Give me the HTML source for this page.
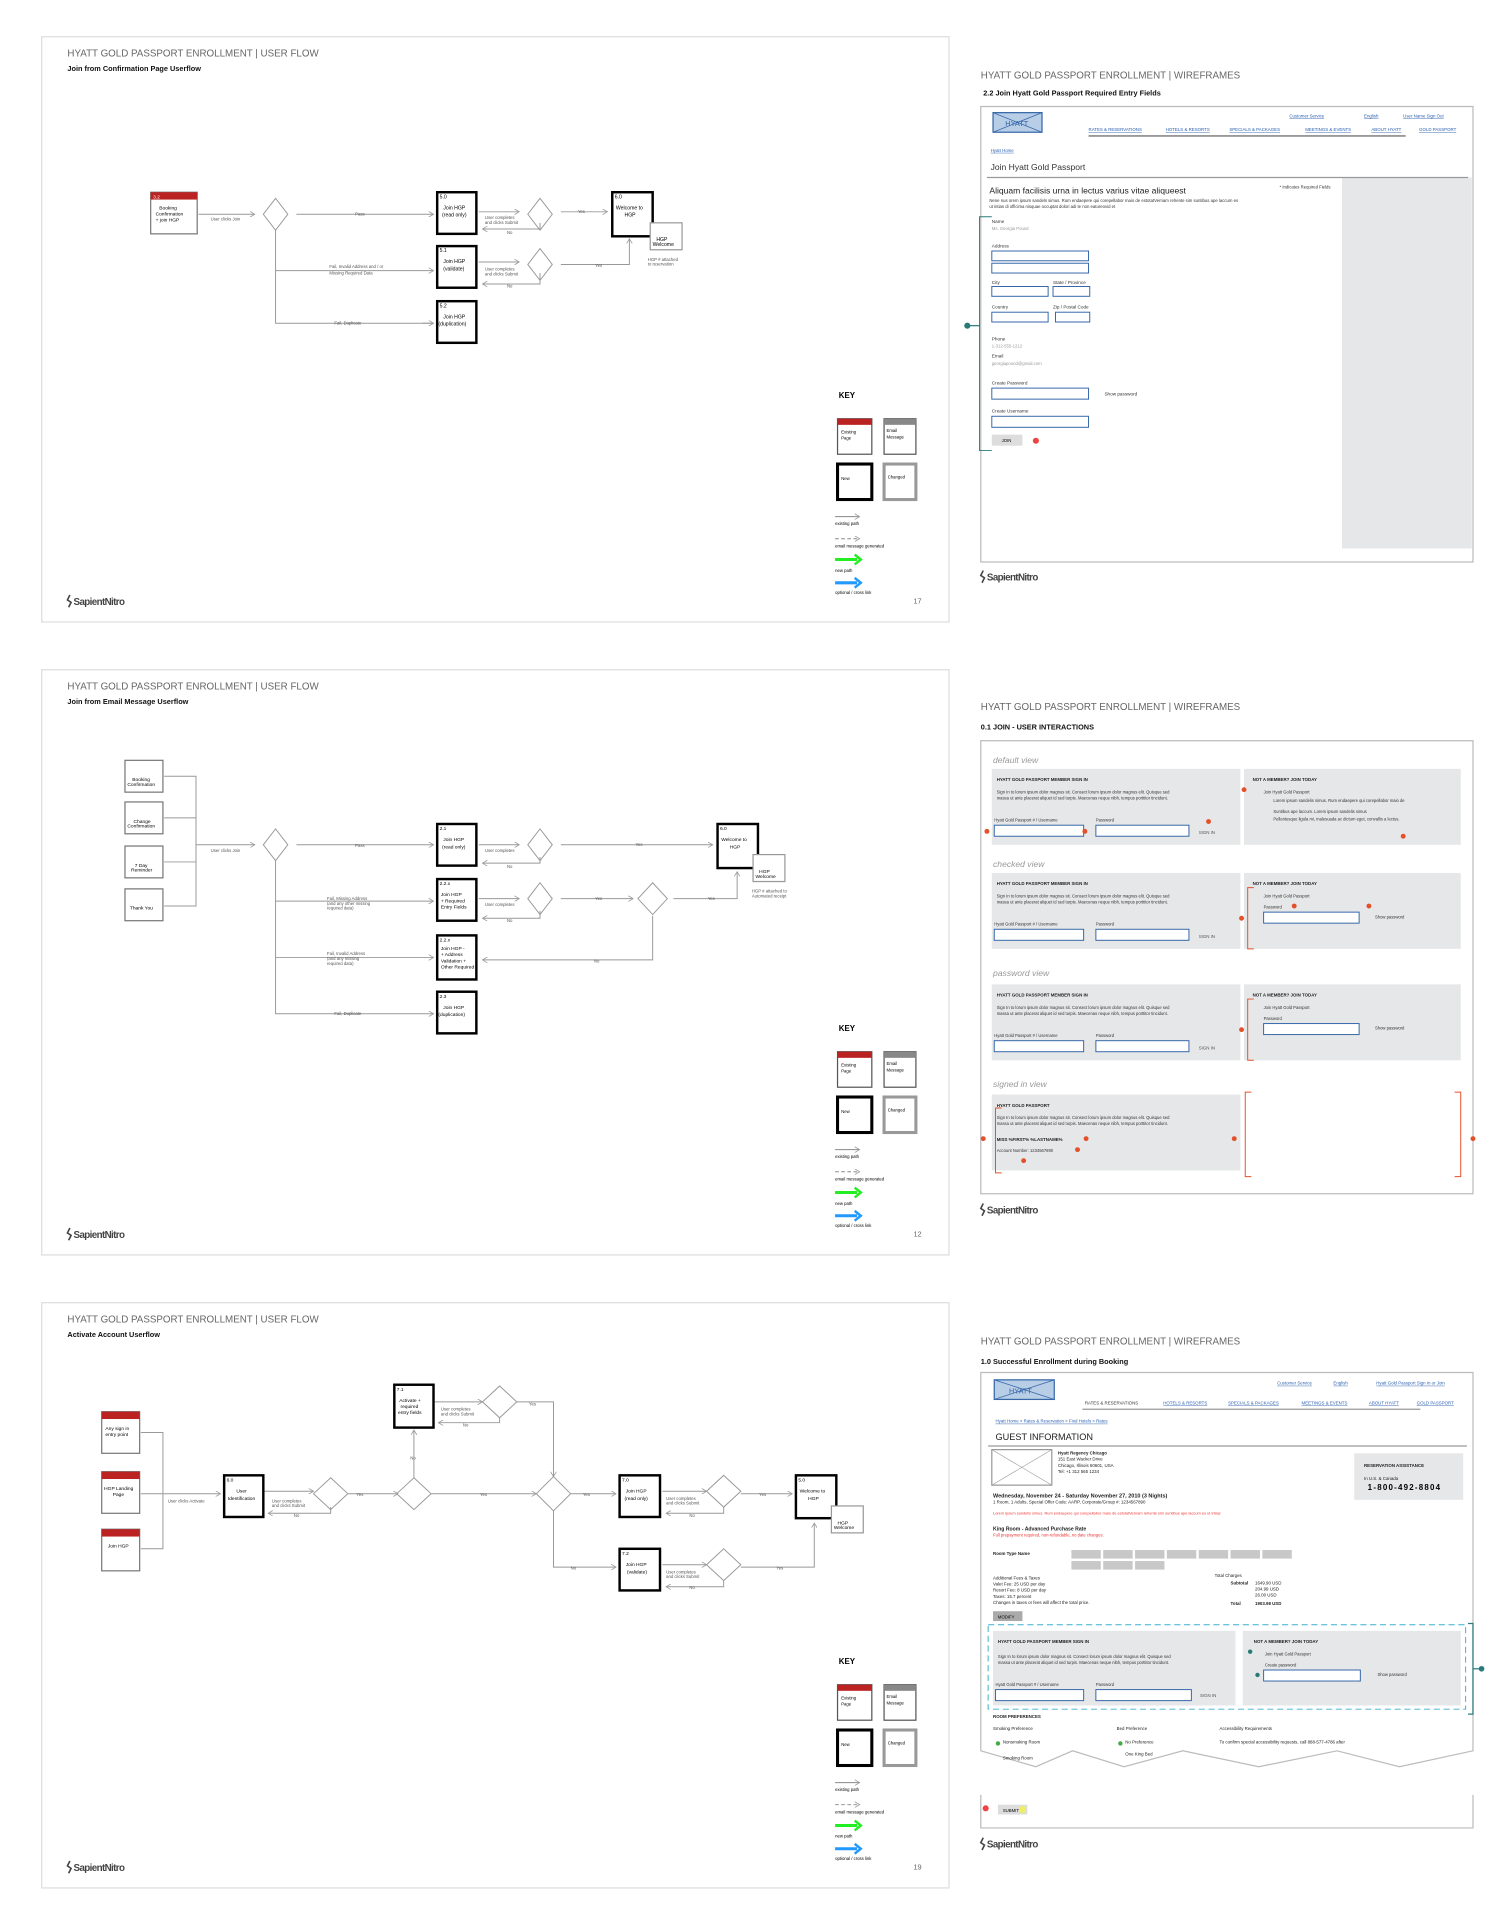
<!DOCTYPE html>
<html><head><meta charset="utf-8"><style>
html,body{margin:0;padding:0;background:#fff;width:1500px;height:1921px;overflow:hidden}
svg{display:block}
text{font-family:"Liberation Sans",sans-serif}
</style></head><body>
<svg width="1500" height="1921" viewBox="0 0 1225 1569" xmlns="http://www.w3.org/2000/svg">
<defs>
<marker id="ah" markerWidth="6" markerHeight="6" refX="5" refY="3" orient="auto"><path d="M0,0 L5,3 L0,6" fill="none" stroke="#999" stroke-width="0.8"/></marker>
<g id="key">
<text x="685" y="325" font-size="6.5" font-weight="bold">KEY</text>
<rect x="684" y="342" width="28" height="29" fill="#fff" stroke="#555" stroke-width="1"/><rect x="684" y="342" width="28" height="5" fill="#b22"/>
<text x="687" y="354" font-size="3.5">Existing</text><text x="687" y="359" font-size="3.5">Page</text>
<rect x="722" y="342" width="26" height="29" fill="#fff" stroke="#555" stroke-width="1"/><rect x="722" y="342" width="26" height="5" fill="#888"/>
<text x="724" y="353" font-size="3.5">Email</text><text x="724" y="358" font-size="3.5">Message</text>
<rect x="684" y="379" width="28" height="29" fill="#fff" stroke="#000" stroke-width="2.5"/><text x="687" y="392" font-size="3.5">New</text>
<rect x="722" y="379" width="26" height="29" fill="#fff" stroke="#999" stroke-width="2.5"/><text x="725" y="391" font-size="3.5">Changed</text>
<line x1="682" y1="422" x2="702" y2="422" stroke="#888" stroke-width="0.8" marker-end="url(#ah)"/><text x="682" y="429" font-size="3.5">existing path</text>
<line x1="682" y1="440" x2="702" y2="440" stroke="#888" stroke-width="0.8" stroke-dasharray="3,2" marker-end="url(#ah)"/><text x="682" y="447" font-size="3.5">email message generated</text>
<line x1="682" y1="457" x2="700" y2="457" stroke="#2e2" stroke-width="2.5"/><path d="M698,453 L703,457 L698,461" fill="none" stroke="#2e2" stroke-width="2"/><text x="682" y="467" font-size="3.5">new path</text>
<line x1="682" y1="476" x2="700" y2="476" stroke="#29f" stroke-width="2.5"/><path d="M698,472 L703,476 L698,480" fill="none" stroke="#29f" stroke-width="2"/><text x="682" y="485" font-size="3.5">optional / cross link</text>
</g>
<g id="logo"><text x="60" y="494" font-size="8" font-weight="bold" fill="#444" letter-spacing="-0.5">SapientNitro</text><path d="M57,486 l-2,4 l3,2 l-2,4" fill="none" stroke="#444" stroke-width="1.3"/></g>
</defs>

<g fill="none" stroke="#ddd" stroke-width="1">
<rect x="34" y="30" width="741" height="478"/>
<rect x="34" y="547" width="741" height="478"/>
<rect x="34" y="1064" width="741" height="478"/>
</g>

<!-- headers -->
<g fill="#666" font-size="8">
<text x="55" y="46">HYATT GOLD PASSPORT ENROLLMENT  |  USER FLOW</text>
<text x="55" y="563">HYATT GOLD PASSPORT ENROLLMENT  |  USER FLOW</text>
<text x="55" y="1080">HYATT GOLD PASSPORT ENROLLMENT  |  USER FLOW</text>
<text x="801" y="64">HYATT GOLD PASSPORT ENROLLMENT  |  WIREFRAMES</text>
<text x="801" y="580">HYATT GOLD PASSPORT ENROLLMENT  |  WIREFRAMES</text>
<text x="801" y="1098">HYATT GOLD PASSPORT ENROLLMENT  |  WIREFRAMES</text>
</g>
<g font-size="6" font-weight="bold" fill="#111">
<text x="55" y="58">Join from Confirmation Page Userflow</text>
<text x="55" y="575">Join from Email Message Userflow</text>
<text x="55" y="1092">Activate Account Userflow</text>
<text x="803" y="78">2.2 Join Hyatt Gold Passport Required Entry Fields</text>
<text x="801" y="596">0.1 JOIN - USER INTERACTIONS</text>
<text x="801" y="1114">1.0 Successful Enrollment during Booking</text>
</g>

<use href="#key"/><use href="#key" transform="translate(0,517)"/><use href="#key" transform="translate(0,1034)"/>
<use href="#logo"/><use href="#logo" transform="translate(0,517)"/><use href="#logo" transform="translate(0,1034)"/>
<use href="#logo" transform="translate(746,-20)"/><use href="#logo" transform="translate(746,497)"/><use href="#logo" transform="translate(746,1015)"/>
<g font-size="6" fill="#666"><text x="746" y="493">17</text><text x="746" y="1010">12</text><text x="746" y="1527">19</text></g>

<!-- PANEL 1 flow -->
<g stroke="#999" stroke-width="0.8" fill="none">
<line x1="162" y1="175" x2="208" y2="175" marker-end="url(#ah)"/>
<line x1="242" y1="175" x2="354" y2="175" marker-end="url(#ah)"/>
<polyline points="225,188 225,264 354,264" /><line x1="225" y1="221" x2="354" y2="221" marker-end="url(#ah)"/>
<line x1="345" y1="264" x2="354" y2="264" marker-end="url(#ah)"/>
<line x1="391" y1="173" x2="424" y2="173" marker-end="url(#ah)"/><polyline points="441,182 441,187 394,187" marker-end="url(#ah)"/>
<line x1="458" y1="173" x2="496" y2="173" marker-end="url(#ah)"/>
<line x1="391" y1="214" x2="424" y2="214" marker-end="url(#ah)"/><polyline points="441,223 441,232 394,232" marker-end="url(#ah)"/>
<polyline points="458,216 514,216 514,195" marker-end="url(#ah)"/>
<path d="M225,162 L235,175 L225,188 L215,175 Z"/><path d="M441,162 L451,175 L441,188 L431,175 Z"/><path d="M441,203 L451,216 L441,229 L431,216 Z"/>
</g>
<g font-size="3.5" fill="#555">
<text x="172" y="180">User clicks Join</text><text x="290" y="176">Pass</text><text x="269" y="219">Fail, Invalid Address and / or</text><text x="269" y="224">Missing Required Data</text><text x="273" y="265">Fail, Duplicate</text>
<text x="396" y="179">User completes</text><text x="396" y="183">and clicks Submit</text><text x="414" y="191">No</text><text x="472" y="174">Yes</text>
<text x="396" y="221">User completes</text><text x="396" y="225">and clicks Submit</text><text x="414" y="235">No</text><text x="486" y="218">Yes</text>
<text x="529" y="213">HGP # attached</text><text x="529" y="217">to reservation</text>
</g>
<!-- nodes p1 -->
<g>
<rect x="123" y="157" width="38" height="34" fill="#fff" stroke="#777" stroke-width="1"/><rect x="123" y="157" width="38" height="6" fill="#b22"/>
<text x="125" y="162" font-size="4" fill="#fff">3.2</text><text x="130" y="171" font-size="4">Booking</text><text x="127" y="176" font-size="4">Confirmation</text><text x="127" y="181" font-size="4">+ join HGP</text>
</g>
<g font-size="4.2">
<rect x="357" y="157" width="32" height="34" fill="#fff" stroke="#000" stroke-width="2"/><text x="359" y="162">5.0</text><text x="362" y="171">Join HGP</text><text x="361" y="177">(read only)</text>
<rect x="357" y="201" width="32" height="34" fill="#fff" stroke="#000" stroke-width="2"/><text x="359" y="206">5.1</text><text x="362" y="215">Join HGP</text><text x="362" y="221">(validate)</text>
<rect x="357" y="246" width="32" height="34" fill="#fff" stroke="#000" stroke-width="2"/><text x="359" y="251">5.2</text><text x="362" y="260">Join HGP</text><text x="358" y="266">(duplication)</text>
<rect x="500" y="157" width="33" height="36" fill="#fff" stroke="#000" stroke-width="2"/><text x="502" y="162">6.0</text><text x="503" y="171">Welcome to</text><text x="510" y="177">HGP</text>
<rect x="531" y="182" width="26" height="22" fill="#fff" stroke="#999"/><text x="536" y="197">HGP</text><text x="533" y="201">Welcome</text>
</g>

<!-- PANEL 2 flow -->
<g stroke="#999" stroke-width="0.8" fill="none">
<polyline points="134,634 160,634 160,740 134,740"/><line x1="134" y1="668" x2="160" y2="668"/><line x1="134" y1="704" x2="160" y2="704"/>
<line x1="160" y1="690" x2="208" y2="690" marker-end="url(#ah)"/>
<line x1="242" y1="690" x2="354" y2="690" marker-end="url(#ah)"/>
<polyline points="225,703 225,828 354,828" marker-end="url(#ah)"/>
<line x1="225" y1="736" x2="354" y2="736" marker-end="url(#ah)"/><line x1="225" y1="782" x2="354" y2="782" marker-end="url(#ah)"/>
<line x1="391" y1="690" x2="424" y2="690" marker-end="url(#ah)"/><polyline points="441,700 441,705 394,705" marker-end="url(#ah)"/>
<line x1="458" y1="690" x2="582" y2="690" marker-end="url(#ah)"/>
<line x1="391" y1="734" x2="424" y2="734" marker-end="url(#ah)"/><polyline points="441,744 441,750 394,750" marker-end="url(#ah)"/>
<line x1="458" y1="734" x2="517" y2="734" marker-end="url(#ah)"/>
<polyline points="550,734 602,734 602,712" marker-end="url(#ah)"/>
<polyline points="533,748 533,784 394,784" marker-end="url(#ah)"/>
<path d="M225,677 L235,690 L225,703 L215,690 Z"/><path d="M441,677 L451,690 L441,703 L431,690 Z"/><path d="M441,721 L451,734 L441,747 L431,734 Z"/><path d="M533,721 L545,734 L533,747 L521,734 Z"/>
</g>
<g font-size="3.5" fill="#555">
<text x="172" y="696">User clicks Join</text><text x="290" y="692">Pass</text><text x="267" y="735">Fail, Missing Address</text><text x="267" y="739">(and any other missing</text><text x="267" y="743">required data)</text>
<text x="267" y="780">Fail, Invalid Address</text><text x="267" y="784">(and any missing</text><text x="267" y="788">required data)</text><text x="273" y="829">Fail, Duplicate</text>
<text x="396" y="696">User completes</text><text x="414" y="709">No</text><text x="519" y="691">Yes</text><text x="396" y="740">User completes</text><text x="414" y="753">No</text><text x="486" y="735">Yes</text><text x="578" y="735">Yes</text><text x="485" y="786">No</text>
<text x="614" y="729">HGP # attached to</text><text x="614" y="733">Automated receipt</text>
</g>
<g font-size="4">
<g><rect x="102" y="621" width="31" height="26" fill="#fff" stroke="#777"/><text x="108" y="638">Booking</text><text x="104" y="642">Confirmation</text></g>
<g><rect x="102" y="655" width="31" height="26" fill="#fff" stroke="#777"/><text x="109" y="672">Change</text><text x="104" y="676">Confirmation</text></g>
<g><rect x="102" y="691" width="31" height="26" fill="#fff" stroke="#777"/><text x="110" y="708">7 Day</text><text x="107" y="712">Reminder</text></g>
<g><rect x="102" y="726" width="31" height="26" fill="#fff" stroke="#777"/><text x="106" y="743">Thank You</text></g>
<rect x="357" y="673" width="32" height="34" fill="#fff" stroke="#000" stroke-width="2"/><text x="359" y="678">2.1</text><text x="362" y="687">Join HGP</text><text x="361" y="693">(read only)</text>
<rect x="357" y="718" width="32" height="34" fill="#fff" stroke="#000" stroke-width="2"/><text x="359" y="723">2.2.x</text><text x="360" y="732">Join HGP</text><text x="360" y="737">+ Required</text><text x="360" y="742">Entry Fields</text>
<rect x="357" y="764" width="32" height="36" fill="#fff" stroke="#000" stroke-width="2"/><text x="359" y="769">2.2.x</text><text x="360" y="776">Join HGP -</text><text x="360" y="781">+ Address</text><text x="360" y="786">Validation +</text><text x="360" y="791">Other Required</text>
<rect x="357" y="810" width="32" height="34" fill="#fff" stroke="#000" stroke-width="2"/><text x="359" y="815">2.3</text><text x="362" y="824">Join HGP</text><text x="358" y="830">(duplication)</text>
<rect x="586" y="673" width="33" height="36" fill="#fff" stroke="#000" stroke-width="2"/><text x="588" y="678">6.0</text><text x="589" y="687">Welcome to</text><text x="596" y="693">HGP</text>
<rect x="615" y="698" width="26" height="22" fill="#fff" stroke="#999"/><text x="620" y="713">HGP</text><text x="617" y="717">Welcome</text>
</g>

<!-- PANEL 3 flow -->
<g stroke="#999" stroke-width="0.8" fill="none">
<polyline points="115,1170 133,1170 133,1265 115,1265"/><line x1="115" y1="1220" x2="180" y2="1220" marker-end="url(#ah)"/>
<line x1="216" y1="1218" x2="256" y2="1218" marker-end="url(#ah)"/><polyline points="270,1231 270,1236 219,1236" marker-end="url(#ah)"/>
<line x1="284" y1="1220" x2="325" y2="1220" marker-end="url(#ah)"/>
<line x1="338" y1="1207" x2="338" y2="1168" marker-end="url(#ah)"/>
<line x1="352" y1="1220" x2="438" y2="1220" marker-end="url(#ah)"/>
<line x1="355" y1="1145" x2="394" y2="1145" marker-end="url(#ah)"/><polyline points="408,1158 408,1162 358,1162" marker-end="url(#ah)"/>
<polyline points="422,1145 452,1145 452,1206" marker-end="url(#ah)"/>
<line x1="466" y1="1220" x2="503" y2="1220" marker-end="url(#ah)"/>
<polyline points="452,1234 452,1280 503,1280" marker-end="url(#ah)"/>
<line x1="541" y1="1218" x2="577" y2="1218" marker-end="url(#ah)"/><polyline points="591,1231 591,1236 544,1236" marker-end="url(#ah)"/>
<line x1="605" y1="1220" x2="647" y2="1220" marker-end="url(#ah)"/>
<line x1="541" y1="1278" x2="577" y2="1278" marker-end="url(#ah)"/><polyline points="591,1291 591,1296 544,1296" marker-end="url(#ah)"/>
<polyline points="605,1280 665,1280 665,1244" marker-end="url(#ah)"/>
<path d="M270,1207 L284,1220 L270,1233 L256,1220 Z"/><path d="M338,1207 L352,1220 L338,1233 L324,1220 Z"/><path d="M408,1132 L422,1145 L408,1158 L394,1145 Z"/><path d="M452,1206 L466,1220 L452,1234 L438,1220 Z"/><path d="M591,1205 L605,1218 L591,1231 L577,1218 Z"/><path d="M591,1265 L605,1278 L591,1291 L577,1278 Z"/>
</g>
<g font-size="3.5" fill="#555">
<text x="137" y="1227">User clicks Activate</text><text x="222" y="1227">User completes</text><text x="222" y="1231">and clicks Submit</text><text x="240" y="1239">No</text><text x="291" y="1222">Yes</text>
<text x="335" y="1192">No</text><text x="392" y="1222">Yes</text><text x="360" y="1152">User completes</text><text x="360" y="1156">and clicks Submit</text><text x="378" y="1165">No</text><text x="432" y="1148">Yes</text>
<text x="476" y="1222">Yes</text><text x="466" y="1282">No</text><text x="544" y="1225">User completes</text><text x="544" y="1229">and clicks Submit</text><text x="563" y="1239">No</text><text x="620" y="1222">Yes</text>
<text x="544" y="1285">User completes</text><text x="544" y="1289">and clicks Submit</text><text x="563" y="1298">No</text><text x="634" y="1282">Yes</text>
</g>
<g font-size="4">
<g><rect x="83" y="1153" width="31" height="34" fill="#fff" stroke="#777"/><rect x="83" y="1153" width="31" height="6" fill="#b22"/><text x="86" y="1168">Any sign in</text><text x="86" y="1173">entry point</text></g>
<g><rect x="83" y="1202" width="31" height="34" fill="#fff" stroke="#777"/><rect x="83" y="1202" width="31" height="6" fill="#b22"/><text x="85" y="1217">HGP Landing</text><text x="92" y="1222">Page</text></g>
<g><rect x="83" y="1249" width="31" height="34" fill="#fff" stroke="#777"/><rect x="83" y="1249" width="31" height="6" fill="#b22"/><text x="88" y="1264">Join HGP</text></g>
<rect x="183" y="1205" width="32" height="34" fill="#fff" stroke="#000" stroke-width="2"/><text x="185" y="1210">6.0</text><text x="193" y="1219">User</text><text x="186" y="1225">Identification</text>
<rect x="322" y="1131" width="32" height="35" fill="#fff" stroke="#000" stroke-width="2"/><text x="324" y="1136">7.1</text><text x="326" y="1145">Activate +</text><text x="327" y="1150">required</text><text x="325" y="1155">entry fields</text>
<rect x="506" y="1205" width="33" height="34" fill="#fff" stroke="#000" stroke-width="2"/><text x="508" y="1210">7.0</text><text x="511" y="1219">Join HGP</text><text x="510" y="1225">(read only)</text>
<rect x="506" y="1265" width="33" height="34" fill="#fff" stroke="#000" stroke-width="2"/><text x="508" y="1270">7.2</text><text x="511" y="1279">Join HGP</text><text x="512" y="1285">(validate)</text>
<rect x="650" y="1205" width="33" height="35" fill="#fff" stroke="#000" stroke-width="2"/><text x="652" y="1210">5.0</text><text x="653" y="1219">Welcome to</text><text x="660" y="1225">HGP</text>
<rect x="679" y="1230" width="26" height="22" fill="#fff" stroke="#999"/><text x="684" y="1245">HGP</text><text x="681" y="1249">Welcome</text>
</g>

<!-- WIREFRAME 1 -->
<rect x="801" y="87" width="402" height="372" fill="#fff" stroke="#bbb"/>
<rect x="1096" y="145" width="106" height="303" fill="#e6e7e8"/>
<rect x="811" y="92" width="40" height="16" fill="#b8cde6" stroke="#3466a8"/><path d="M811,92 L851,108 M851,92 L811,108" stroke="#3466a8" stroke-width="0.6"/><text x="821" y="103" font-size="6" fill="#3466a8">HYATT</text>
<g font-size="3.6" fill="#2a5fb0" text-decoration="underline"><text x="1053" y="96">Customer Service</text><text x="1114" y="96">English</text><text x="1146" y="96">User Name  Sign Out</text>
<text x="889" y="107">RATES &amp; RESERVATIONS</text><text x="952" y="107">HOTELS &amp; RESORTS</text><text x="1004" y="107">SPECIALS &amp; PACKAGES</text><text x="1066" y="107">MEETINGS &amp; EVENTS</text><text x="1120" y="107">ABOUT HYATT</text><text x="1159" y="107">GOLD PASSPORT</text>
<text x="809" y="124">Hyatt Home</text></g>
<line x1="889" y1="111" x2="1148" y2="111" stroke="#999" stroke-width="1.5"/>
<text x="809" y="139" font-size="7" fill="#333">Join Hyatt Gold Passport</text>
<line x1="806" y1="145" x2="1199" y2="145" stroke="#999"/>
<text x="808" y="158" font-size="7" fill="#222">Aliquam facilisis urna in lectus varius vitae aliqueest</text>
<text x="808" y="165" font-size="3.5" fill="#333">Nene nus orem ipsum sandels simus. Rum endaepere qui corepellabor maio de estotatVernam rehente sim suntibus ape laccum es</text>
<text x="808" y="170" font-size="3.5" fill="#333">ut intias di officima nisquae occuptat dolori adi te non eatureovid et</text>
<text x="1045" y="154" font-size="3.5" fill="#333">* Indicates Required Fields</text>
<polyline points="810,177 800,177 800,368 810,368" fill="none" stroke="#2a7a7a" stroke-width="0.8"/><line x1="790" y1="266" x2="800" y2="266" stroke="#2a7a7a"/><circle cx="790" cy="266" r="2.5" fill="#2a7a7a"/>
<g font-size="3.8" fill="#333"><text x="810" y="182">Name</text><text x="810" y="202">Address</text><text x="810" y="232">City</text><text x="860" y="232">State / Province</text><text x="810" y="252">Country</text><text x="860" y="252">Zip / Postal Code</text><text x="810" y="278">Phone</text><text x="810" y="292">Email</text><text x="810" y="314">Create Password</text><text x="810" y="337">Create Username</text><text x="902" y="323">Show password</text></g>
<g font-size="3.5" fill="#999"><text x="810" y="188">Ms. Georgia Pound</text><text x="810" y="284">1-312-555-1212</text><text x="810" y="298">georgiapound@gmail.com</text></g>
<g fill="#fff" stroke="#3466a8" stroke-width="0.8"><rect x="810" y="205" width="79" height="8"/><rect x="810" y="215" width="79" height="8"/><rect x="810" y="234" width="46" height="8"/><rect x="860" y="234" width="30" height="8"/><rect x="810" y="255" width="46" height="8"/><rect x="862" y="255" width="28" height="8"/><rect x="810" y="317" width="79" height="9"/><rect x="810" y="340" width="79" height="9"/></g>
<rect x="810" y="355" width="25" height="9" fill="#ddd"/><text x="818" y="361" font-size="3.5">JOIN</text><circle cx="846" cy="360" r="2.5" fill="#e44"/>

<!-- WIREFRAME 2 -->
<rect x="801" y="605" width="402" height="370" fill="#fff" stroke="#bbb"/>
<g font-size="7" font-style="italic" fill="#999"><text x="811" y="623">default view</text><text x="811" y="708">checked view</text><text x="811" y="797">password view</text><text x="811" y="888">signed in view</text></g>
<g fill="#e6e7e8"><rect x="810" y="628" width="203" height="62"/><rect x="1016" y="628" width="177" height="62"/><rect x="810" y="713" width="203" height="62"/><rect x="1016" y="713" width="177" height="62"/><rect x="810" y="804" width="203" height="62"/><rect x="1016" y="804" width="177" height="62"/><rect x="810" y="894" width="203" height="62"/></g>
<g font-size="3.6" font-weight="bold" fill="#222"><text x="814" y="638">HYATT GOLD PASSPORT MEMBER SIGN IN</text><text x="1023" y="638">NOT A MEMBER? JOIN TODAY</text><text x="814" y="723">HYATT GOLD PASSPORT MEMBER SIGN IN</text><text x="1023" y="723">NOT A MEMBER? JOIN TODAY</text><text x="814" y="814">HYATT GOLD PASSPORT MEMBER SIGN IN</text><text x="1023" y="814">NOT A MEMBER? JOIN TODAY</text><text x="814" y="904">HYATT GOLD PASSPORT</text><text x="814" y="932">MISS %FIRST% %LASTNAME%</text></g>
<g font-size="3.4" fill="#333">
<text x="814" y="648">Sign In to lorum ipsum dolor magnus sit. Consect lorum ipsum dolor magnus elit. Quisque sed</text><text x="814" y="653">massa ut ante placerat aliquet id sed turpis. Maecenas neque nibh, tempus porttitor tincidunt.</text>
<text x="814" y="733">Sign In to lorum ipsum dolor magnus sit. Consect lorum ipsum dolor magnus elit. Quisque sed</text><text x="814" y="738">massa ut ante placerat aliquet id sed turpis. Maecenas neque nibh, tempus porttitor tincidunt.</text>
<text x="814" y="824">Sign In to lorum ipsum dolor magnus sit. Consect lorum ipsum dolor magnus elit. Quisque sed</text><text x="814" y="829">massa ut ante placerat aliquet id sed turpis. Maecenas neque nibh, tempus porttitor tincidunt.</text>
<text x="814" y="914">Sign In to lorum ipsum dolor magnus sit. Consect lorum ipsum dolor magnus elit. Quisque sed</text><text x="814" y="919">massa ut ante placerat aliquet id sed turpis. Maecenas neque nibh, tempus porttitor tincidunt.</text>
<text x="814" y="941">Account Number: 1234567890</text>
<text x="1032" y="648">Join Hyatt Gold Passport</text><text x="1032" y="733">Join Hyatt Gold Passport</text><text x="1032" y="824">Join Hyatt Gold Passport</text>
<text x="1040" y="655">Lorem ipsum sandelis simus. Rum endaepere qui corepellabor maio de</text><text x="1040" y="664">Suntibus ape laccum. Lorem ipsum sandelis simus</text><text x="1040" y="670">Pellentesque ligula mi, malesuada ac dictum eget, convallis a lectus.</text>
<text x="1032" y="742">Password</text><text x="1032" y="833">Password</text><text x="1123" y="750">Show password</text><text x="1123" y="841">Show password</text>
<text x="812" y="671">Hyatt Gold Passport # / Username</text><text x="895" y="671">Password</text><text x="812" y="756">Hyatt Gold Passport # / Username</text><text x="895" y="756">Password</text><text x="812" y="847">Hyatt Gold Passport # / Username</text><text x="895" y="847">Password</text>
</g>
<g fill="#fff" stroke="#3466a8" stroke-width="0.8"><rect x="812" y="674" width="73" height="9"/><rect x="895" y="674" width="76" height="9"/><rect x="812" y="759" width="73" height="9"/><rect x="895" y="759" width="76" height="9"/><rect x="812" y="850" width="73" height="9"/><rect x="895" y="850" width="76" height="9"/><rect x="1032" y="745" width="78" height="9"/><rect x="1032" y="836" width="78" height="9"/></g>
<g font-size="3.6" fill="#555"><text x="979" y="681">SIGN IN</text><text x="979" y="766">SIGN IN</text><text x="979" y="857">SIGN IN</text></g>
<g fill="none" stroke="#e4502a" stroke-width="0.8"><polyline points="1024,725 1019,725 1019,775 1024,775"/><polyline points="1024,816 1019,816 1019,866 1024,866"/><polyline points="1022,892 1017,892 1017,961 1022,961"/><polyline points="1188,892 1193,892 1193,961 1188,961"/><polyline points="818,905 813,905 813,958 818,958"/></g>
<g fill="#e4502a"><circle cx="806" cy="679" r="2"/><circle cx="886" cy="679" r="2"/><circle cx="987" cy="671" r="2"/><circle cx="1016" cy="645" r="2"/><circle cx="1146" cy="683" r="2"/><circle cx="1014" cy="750" r="2"/><circle cx="1057" cy="740" r="2"/><circle cx="1118" cy="740" r="2"/><circle cx="1014" cy="841" r="2"/><circle cx="803" cy="930" r="2"/><circle cx="887" cy="930" r="2"/><circle cx="880" cy="939" r="2"/><circle cx="836" cy="948" r="2"/><circle cx="1008" cy="930" r="2"/><circle cx="1203" cy="930" r="2"/></g>

<!-- WIREFRAME 3 -->
<path d="M801,1121 L1203,1121 L1203,1430 L1143,1443 L1092,1430 L1028,1443 L966,1430 L918,1443 L876,1430 L846,1443 L801,1430 Z" fill="#fff" stroke="#bbb"/>
<path d="M801,1466 L801,1493 L1203,1493 L1203,1466" fill="none" stroke="#bbb"/>
<rect x="812" y="1127" width="49" height="16" fill="#b8cde6" stroke="#3466a8"/><path d="M812,1127 L861,1143 M861,1127 L812,1143" stroke="#3466a8" stroke-width="0.6"/><text x="824" y="1138" font-size="6" fill="#3466a8">HYATT</text>
<g font-size="3.6" fill="#2a5fb0" text-decoration="underline"><text x="1043" y="1131">Customer Service</text><text x="1089" y="1131">English</text><text x="1124" y="1131">Hyatt Gold Passport  Sign In or Join</text>
<text x="950" y="1147">HOTELS &amp; RESORTS</text><text x="1003" y="1147">SPECIALS &amp; PACKAGES</text><text x="1063" y="1147">MEETINGS &amp; EVENTS</text><text x="1118" y="1147">ABOUT HYATT</text><text x="1157" y="1147">GOLD PASSPORT</text><text x="813" y="1162">Hyatt Home &gt; Rates &amp; Reservation &gt; Find Hotels &gt; Rates</text></g>
<text x="886" y="1147" font-size="3.6" fill="#333">RATES &amp; RESERVATIONS</text>
<line x1="884" y1="1151" x2="1160" y2="1151" stroke="#999"/>
<text x="813" y="1176" font-size="7.5" fill="#222">GUEST INFORMATION</text>
<line x1="807" y1="1181" x2="1198" y2="1181" stroke="#999"/>
<rect x="810" y="1184" width="49" height="29" fill="#fff" stroke="#999"/><path d="M810,1184 L859,1213 M859,1184 L810,1213" stroke="#999" stroke-width="0.5"/>
<rect x="1106" y="1187" width="89" height="38" fill="#e6e7e8"/>
<g font-size="3.6" fill="#222"><text x="864" y="1188" font-weight="bold">Hyatt Regency Chicago</text><text x="864" y="1193">151 East Wacker Drive</text><text x="864" y="1198">Chicago, Illinois 60601, USA</text><text x="864" y="1203">Tel: +1 312 565 1234</text>
<text x="1114" y="1198" font-weight="bold">RESERVATION ASSISTANCE</text><text x="1114" y="1209">In U.S. &amp; Canada</text>
<text x="811" y="1223" font-size="4.5" font-weight="bold">Wednesday, November 24  -  Saturday November 27, 2010 (3 Nights)</text><text x="811" y="1228">1 Room, 1 Adults, Special Offer Code: AARP, Corporate/Group #: 1234567890</text>
<text x="811" y="1250" font-weight="bold" font-size="4.2">King Room - Advanced Purchase Rate</text><text x="811" y="1270" font-weight="bold">Room Type Name</text>
<text x="811" y="1290">Additional Fees &amp; Taxes</text><text x="811" y="1295">Valet Fee: 25 USD per day</text><text x="811" y="1300">Resort Fee: 8 USD per day</text><text x="811" y="1305">Taxes: 15.7 percent</text><text x="811" y="1310">Changes in taxes or fees will affect the total price.</text>
<text x="992" y="1288">Total Charges</text><text x="1005" y="1294" font-weight="bold">Subtotal</text><text x="1025" y="1294">1649.90  USD</text><text x="1025" y="1299">204.99  USD</text><text x="1025" y="1304">26.00  USD</text><text x="1005" y="1311" font-weight="bold">Total</text><text x="1025" y="1311" font-weight="bold">1903.98 USD</text>
<text x="811" y="1403" font-weight="bold">ROOM PREFERENCES</text><text x="811" y="1413">Smoking Preference</text><text x="912" y="1413">Bed Preference</text><text x="996" y="1413">Accessibility Requirements</text>
<text x="819" y="1424">Nonsmoking Room</text><text x="919" y="1424">No Preference</text><text x="919" y="1434">One King Bed</text><text x="996" y="1424">To confirm special accessibility requests, call 888-577-4786 after</text><text x="819" y="1437">Smoking Room</text></g>
<text x="1117" y="1217" font-size="6.5" font-weight="bold" letter-spacing="1">1-800-492-8804</text>
<text x="811" y="1237" font-size="3.2" fill="#e33">Lorem ipsum sandelis simus. Rum endaepere qui corepellabor maio de estotatVernam rehente sim suntibus ape laccum es ut intias</text>
<text x="811" y="1255" font-size="3.4" fill="#e33">Full prepayment required, non-refundable, no date changes.</text>
<g fill="#c8c8c8"><rect x="875" y="1266" width="24" height="7"/><rect x="901" y="1266" width="24" height="7"/><rect x="927" y="1266" width="24" height="7"/><rect x="953" y="1266" width="24" height="7"/><rect x="979" y="1266" width="24" height="7"/><rect x="1005" y="1266" width="24" height="7"/><rect x="1031" y="1266" width="24" height="7"/><rect x="875" y="1275" width="24" height="7"/><rect x="901" y="1275" width="24" height="7"/><rect x="927" y="1275" width="24" height="7"/></g>
<rect x="811" y="1316" width="24" height="8" fill="#aaa"/><text x="815" y="1322" font-size="3.5">MODIFY</text>
<rect x="807" y="1327" width="390" height="69" fill="none" stroke="#3ab0d0" stroke-dasharray="5,3" stroke-width="0.8"/>
<rect x="811" y="1332" width="198" height="61" fill="#e6e7e8"/><rect x="1015" y="1332" width="178" height="61" fill="#e6e7e8"/>
<g font-size="3.6" font-weight="bold" fill="#222"><text x="815" y="1342">HYATT GOLD PASSPORT MEMBER SIGN IN</text><text x="1024" y="1342">NOT A MEMBER? JOIN TODAY</text></g>
<g font-size="3.4" fill="#333"><text x="815" y="1354">Sign In to lorum ipsum dolor magnus sit. Consect lorum ipsum dolor magnus elit. Quisque sed</text><text x="815" y="1359">massa ut ante placerat aliquet id sed turpis. Maecenas neque nibh, tempus porttitor tincidunt.</text><text x="1033" y="1352">Join Hyatt Gold Passport</text><text x="1033" y="1361">Create password</text><text x="1125" y="1369">Show password</text><text x="813" y="1377">Hyatt Gold Passport # / Username</text><text x="895" y="1377">Password</text></g>
<g fill="#fff" stroke="#3466a8" stroke-width="0.8"><rect x="813" y="1380" width="72" height="9"/><rect x="895" y="1380" width="78" height="9"/><rect x="1032" y="1364" width="79" height="9"/></g>
<text x="980" y="1386" font-size="3.6" fill="#555">SIGN IN</text>
<polyline points="1199,1326 1203,1326 1203,1400 1199,1400" fill="none" stroke="#2a7a7a"/><line x1="1203" y1="1363" x2="1210" y2="1363" stroke="#2a7a7a"/><circle cx="1210" cy="1363" r="2.3" fill="#2a7a7a"/>
<circle cx="1021" cy="1349" r="1.8" fill="#2a7a7a"/><circle cx="1027" cy="1368" r="1.8" fill="#2a7a7a"/>
<circle cx="815" cy="1424" r="1.8" fill="#4a4"/><circle cx="915" cy="1424" r="1.8" fill="#4a4"/>
<rect x="815" y="1474" width="24" height="8" fill="#ddd"/><circle cx="835" cy="1478" r="3" fill="#ee6"/><text x="819" y="1480" font-size="3.5">SUBMIT</text><circle cx="805" cy="1477" r="2.5" fill="#e44"/>
</svg>
</body></html>
